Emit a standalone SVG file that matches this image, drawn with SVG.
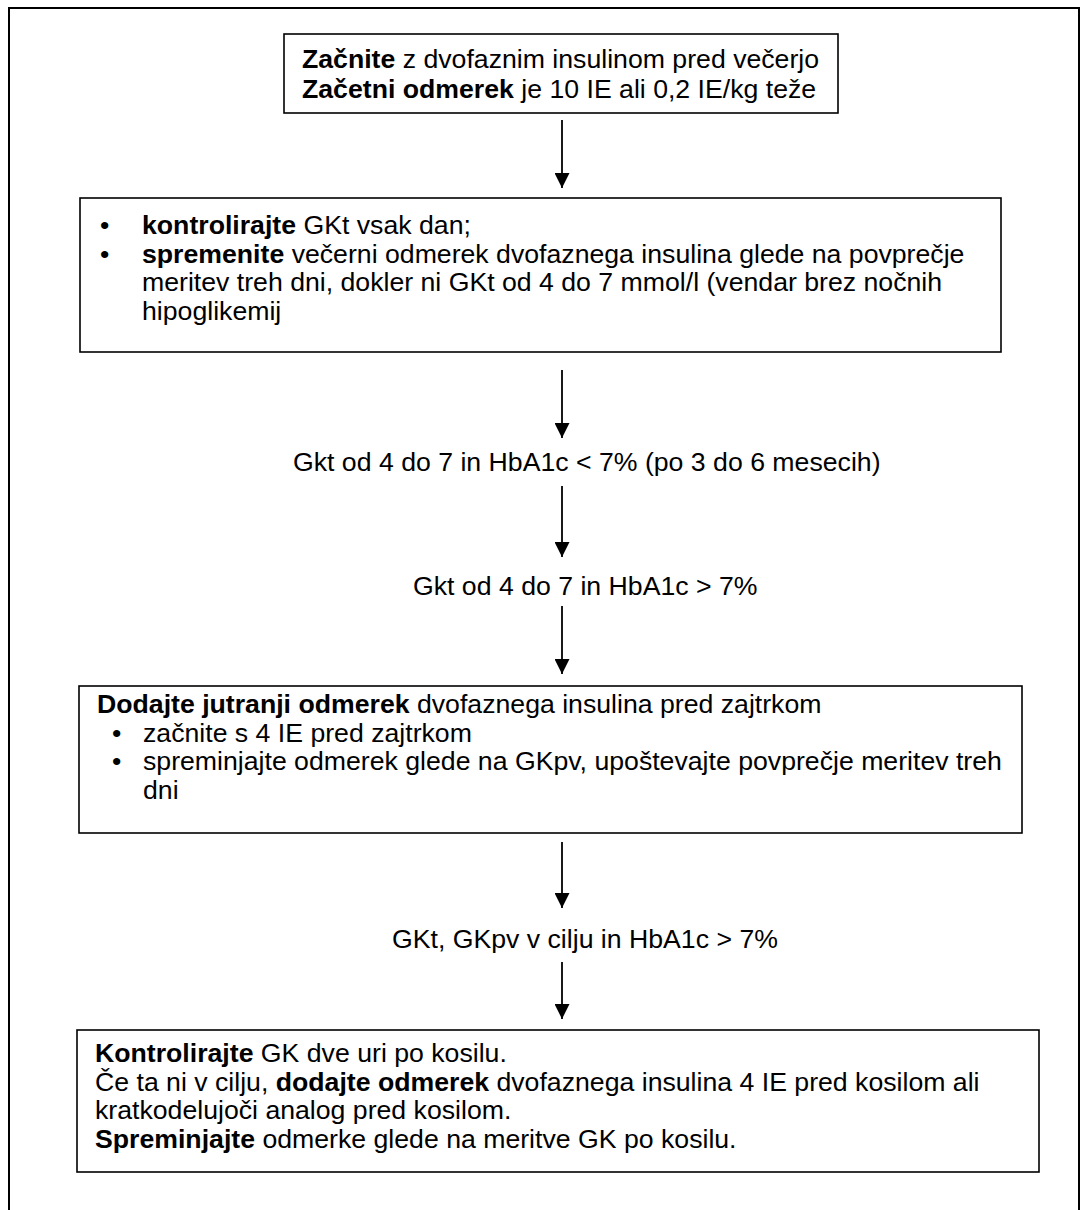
<svg xmlns="http://www.w3.org/2000/svg" width="1080" height="1210" viewBox="0 0 1080 1210">
<style>
.t{font-family:"Liberation Sans",Arial,sans-serif;font-size:26.67px;fill:#000}
.b{font-weight:bold}
.box{fill:#fff;stroke:#000;stroke-width:1.6}
.frame{fill:none;stroke:#000;stroke-width:2}
.arr{stroke:#000;stroke-width:1.8;fill:none}
</style>
<defs>
<marker id="ah" viewBox="0 0 10 10" refX="10" refY="5" markerUnits="userSpaceOnUse" markerWidth="15" markerHeight="15" orient="auto"><path d="M0,0 L10,5 L0,10 z" fill="#000"/></marker>
</defs>
<rect class="frame" x="9" y="8" width="1070" height="1220"/>
<g id="connectors">
<line class="arr" x1="562" y1="120" x2="562" y2="188" marker-end="url(#ah)"/>
<line class="arr" x1="562" y1="370" x2="562" y2="438" marker-end="url(#ah)"/>
<line class="arr" x1="562" y1="486" x2="562" y2="557" marker-end="url(#ah)"/>
<line class="arr" x1="562" y1="606" x2="562" y2="674" marker-end="url(#ah)"/>
<line class="arr" x1="562" y1="842" x2="562" y2="908" marker-end="url(#ah)"/>
<line class="arr" x1="562" y1="962" x2="562" y2="1019" marker-end="url(#ah)"/>
</g>
<g id="n1">
<rect class="box" x="284" y="34" width="554" height="79"/>
<text class="t" x="302" y="68"><tspan class="b">Začnite</tspan> z dvofaznim insulinom pred večerjo</text>
<text class="t" x="302" y="97.5"><tspan class="b">Začetni odmerek</tspan> je 10 IE ali 0,2 IE/kg teže</text>
</g>
<g id="n2">
<rect class="box" x="80" y="198" width="921" height="154"/>
<text class="t" x="100" y="234">•</text>
<text class="t" x="142" y="234"><tspan class="b">kontrolirajte</tspan> GKt vsak dan;</text>
<text class="t" x="100" y="262.5">•</text>
<text class="t" x="142" y="262.5"><tspan class="b">spremenite</tspan> večerni odmerek dvofaznega insulina glede na povprečje</text>
<text class="t" x="142" y="291">meritev treh dni, dokler ni GKt od 4 do 7 mmol/l (vendar brez nočnih</text>
<text class="t" x="142" y="319.5">hipoglikemij</text>
</g>
<g id="n3">
<text class="t" x="293" y="471">Gkt od 4 do 7 in HbA1c &lt; 7% (po 3 do 6 mesecih)</text>
</g>
<g id="n4">
<text class="t" x="413" y="595">Gkt od 4 do 7 in HbA1c &gt; 7%</text>
</g>
<g id="n5">
<rect class="box" x="79" y="686" width="943" height="147"/>
<text class="t" x="97" y="713"><tspan class="b">Dodajte jutranji odmerek</tspan> dvofaznega insulina pred zajtrkom</text>
<text class="t" x="112" y="741.5">•</text>
<text class="t" x="143" y="741.5">začnite s 4 IE pred zajtrkom</text>
<text class="t" x="112" y="770">•</text>
<text class="t" x="143" y="770">spreminjajte odmerek glede na GKpv, upoštevajte povprečje meritev treh</text>
<text class="t" x="143" y="798.5">dni</text>
</g>
<g id="n6">
<text class="t" x="392" y="948">GKt, GKpv v cilju in HbA1c &gt; 7%</text>
</g>
<g id="n7">
<rect class="box" x="77" y="1030" width="962" height="142"/>
<text class="t" x="95" y="1062"><tspan class="b">Kontrolirajte</tspan> GK dve uri po kosilu.</text>
<text class="t" x="95" y="1090.5">Če ta ni v cilju, <tspan class="b">dodajte odmerek</tspan> dvofaznega insulina 4 IE pred kosilom ali</text>
<text class="t" x="95" y="1119">kratkodelujoči analog pred kosilom.</text>
<text class="t" x="95" y="1147.5"><tspan class="b">Spreminjajte</tspan> odmerke glede na meritve GK po kosilu.</text>
</g>
</svg>
